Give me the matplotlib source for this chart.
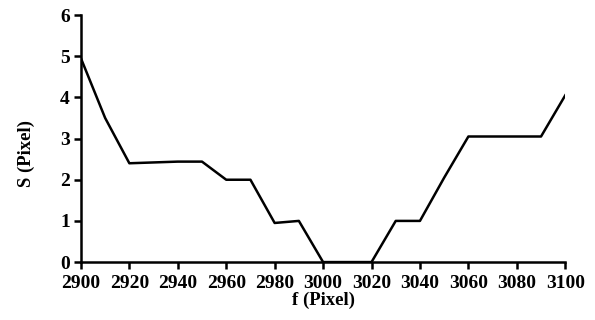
import matplotlib as mpl
mpl.use('Agg')
import matplotlib.pyplot as plt

# f (Pixel) vs S (Pixel)
f_vals = [2900, 2910, 2920, 2930, 2940, 2950, 2960, 2970, 2980, 2990,
          3000, 3010, 3020, 3030, 3040, 3050, 3060, 3070, 3080, 3090, 3100]
s_vals = [4.95, 3.5, 2.4, 2.42, 2.44, 2.44, 2.0, 2.0, 0.95, 1.0,
          0.0, 0.0, 0.0, 1.0, 1.0, 2.05, 3.05, 3.05, 3.05, 3.05, 4.05]
x_ticks = list(range(2900, 3101, 20))
y_ticks = [0, 1, 2, 3, 4, 5, 6]

plt.rcParams['font.family'] = ['Liberation Serif', 'DejaVu Serif']
plt.rcParams['font.weight'] = 'bold'

fig = plt.figure(figsize=(5.95, 3.2), dpi=100)
ax = fig.add_axes([0.136, 0.181, 0.814, 0.772])
ax.plot(f_vals, s_vals, color='black', linewidth=1.8)

ax.set_xlim(2900, 3100)
ax.set_ylim(0, 6)
ax.set_xticks(x_ticks)
ax.set_yticks(y_ticks)
ax.spines['top'].set_visible(False)
ax.spines['right'].set_visible(False)
for s in ['left', 'bottom']:
  ax.spines[s].set_linewidth(1.8)
ax.tick_params(direction='out', length=5, width=1.8, labelsize=14)
ax.tick_params(axis='x', pad=4)
ax.tick_params(axis='y', pad=3)
ax.set_xlabel('f (Pixel)', fontsize=13.5, fontweight='bold')
ax.set_ylabel('S (Pixel)', fontsize=13.5, fontweight='bold')
ax.xaxis.set_label_coords(0.5, -0.12)
ax.yaxis.set_label_coords(-0.094, 0.44)

fig.savefig('out.png', dpi=100)
